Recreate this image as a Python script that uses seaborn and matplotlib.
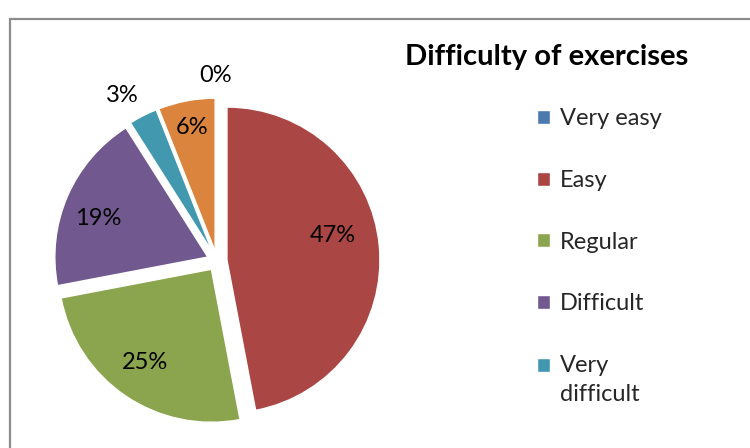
import numpy as np
import seaborn as sns
import matplotlib
matplotlib.use("Agg")
import matplotlib.pyplot as plt
from matplotlib.patches import Rectangle

# ===============================
# Data
# ===============================
categories = ["Very easy", "Easy", "Regular", "Difficult", "Very difficult", "No answer"]
shares = [0, 47, 25, 19, 3, 6]
pct_labels = ["0%", "47%", "25%", "19%", "3%", "6%"]
legend_names = ["Very easy", "Easy", "Regular", "Difficult", "Very\ndifficult"]

# ===============================
# Style
# ===============================
sns.set_theme(style="white")
plt.rcParams['font.family'] = ['Lato', 'DejaVu Sans']

colors = sns.color_palette(["#4A7AB0", "#AA4644", "#8BA54E", "#71588F", "#4298AF", "#DB843D"])

fig = plt.figure(figsize=(7.5, 4.48), dpi=100)
ax = fig.add_axes([0, 0, 1, 1])

# outer chart frame (cut off at right / bottom)
ax.add_patch(Rectangle((10, -60), 800, 489, fill=False, edgecolor="#8C8C8C",
                       linewidth=1.6, clip_on=False))

# ===============================
# Pie
# ===============================
# explode is in data units here (radius is 153)
wedges, _ = ax.pie(shares, colors=colors, startangle=90, counterclock=False,
                   center=(217, 187), radius=153, explode=[10] * len(shares),
                   wedgeprops=dict(edgecolor="white", linewidth=1.0), frame=True)
ax.set_xlim(0, 750)
ax.set_ylim(0, 448)
ax.set_aspect("equal")
ax.axis("off")

# label placement: distance (fraction of radius) and angle shift per slice
label_dist = [1.15, 0.71, 0.75, 0.76, 1.18, 0.82]
label_shift = [0.6, 7.4, -1.1, 3.8, 3.0, 0.0]
for w, txt, d, s in zip(wedges, pct_labels, label_dist, label_shift):
    ang = np.deg2rad((w.theta1 + w.theta2) / 2 + s)
    cx, cy = w.center
    ax.text(cx + d * w.r * np.cos(ang), cy + d * w.r * np.sin(ang), txt,
            ha="center", va="center", fontsize=17, color="black")

# ===============================
# Title and legend
# ===============================
ax.text(547, 448 - 57, "Difficulty of exercises", ha="center", va="center",
        fontsize=21, fontweight="bold", color="black")

leg = ax.legend(wedges[:5], legend_names, loc="upper left",
                bbox_to_anchor=(528 / 750, 1 - 99 / 448), frameon=False,
                fontsize=17, handlelength=0.55, handleheight=0.55,
                handletextpad=0.4, labelspacing=1.72, borderaxespad=0)
for t in leg.get_texts():
    t.set_linespacing(1.5)

# two-line entry: keep its square next to the first line, like Excel
h = leg.legend_handles[4]
h.set_y(h.get_y() + 11)

fig.savefig("out.png", dpi=100)
